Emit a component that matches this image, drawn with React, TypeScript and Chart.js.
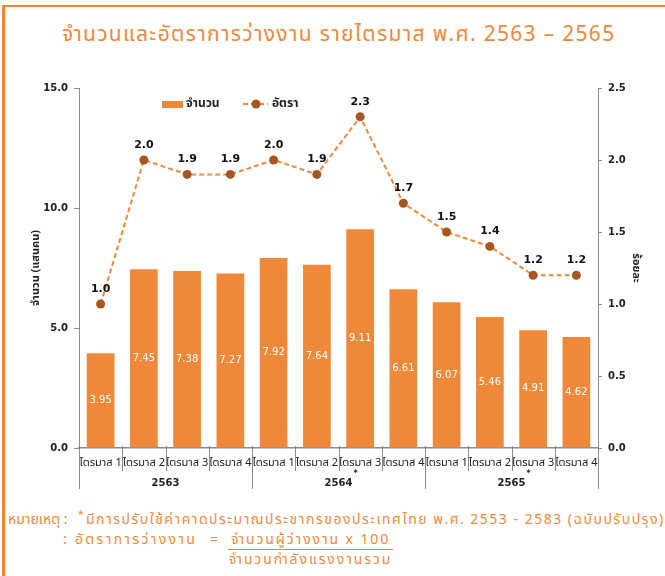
import React, { useEffect, useRef } from 'react';
import { Chart, registerables } from 'chart.js';

Chart.register(...registerables);

const quarterLabels = [
  'ไตรมาส 1', 'ไตรมาส 2', 'ไตรมาส 3', 'ไตรมาส 4',
  'ไตรมาส 1', 'ไตรมาส 2', 'ไตรมาส 3', 'ไตรมาส 4',
  'ไตรมาส 1', 'ไตรมาส 2', 'ไตรมาส 3', 'ไตรมาส 4',
];
const yearLabels = ['2563', '2564', '2565'];
const yearMarks = ['', '*', '*'];
const unemployed = [3.95, 7.45, 7.38, 7.27, 7.92, 7.64, 9.11, 6.61, 6.07, 5.46, 4.91, 4.62];
const rate = [1.0, 2.0, 1.9, 1.9, 2.0, 1.9, 2.3, 1.7, 1.5, 1.4, 1.2, 1.2];
const seriesNames = ['จำนวน', 'อัตรา'];
const leftAxisTitle = 'จำนวน (แสนคน)';
const rightAxisTitle = 'ร้อยละ';
const titleText = 'จำนวนและอัตราการว่างงาน รายไตรมาส พ.ศ. 2563 – 2565';

const ORANGE = '#F0883A';
const BROWN = '#A8561F';
const AXIS = '#8c8c8c';
const THAI = "Tahoma, 'Noto Sans Thai', 'Noto Sans Thai UI', Loma, Garuda, 'DejaVu Sans', sans-serif";
const NUM = "'DejaVu Sans', Tahoma, sans-serif";

const decoPlugin = {
  id: 'deco',
  afterDatasetsDraw(chart: any) {
    const ctx = chart.ctx;
    const barMeta = chart.getDatasetMeta(0);
    ctx.save();
    ctx.font = `10px ${NUM}`;
    ctx.fillStyle = '#ffffff';
    ctx.textAlign = 'center';
    ctx.textBaseline = 'middle';
    barMeta.data.forEach((el: any, i: number) => {
      ctx.fillText(unemployed[i].toFixed(2), el.x, (el.y + el.base) / 2);
    });
    const lineMeta = chart.getDatasetMeta(1);
    ctx.font = `bold 11px ${NUM}`;
    ctx.fillStyle = '#111111';
    lineMeta.data.forEach((el: any, i: number) => {
      ctx.fillText(rate[i].toFixed(1), el.x, el.y - 15);
    });
    ctx.restore();
  },
  afterDraw(chart: any) {
    const ctx = chart.ctx;
    const x = chart.scales.x;
    const area = chart.chartArea;
    const n = quarterLabels.length;
    const bounds: number[] = [];
    for (let i = 0; i <= n; i++) {
      if (i === 0) bounds.push(area.left);
      else if (i === n) bounds.push(area.right);
      else bounds.push((x.getPixelForValue(i - 1) + x.getPixelForValue(i)) / 2);
    }
    ctx.save();
    ctx.strokeStyle = AXIS;
    ctx.lineWidth = 1;
    for (let i = 0; i <= n; i++) {
      const isYear = i % 4 === 0;
      const bx = Math.round(bounds[i]) + 0.5;
      ctx.beginPath();
      ctx.moveTo(bx, area.bottom - 2);
      ctx.lineTo(bx, isYear ? area.bottom + 41 : area.bottom + 23);
      ctx.stroke();
    }
    ctx.font = `bold 10px ${NUM}`;
    ctx.fillStyle = '#222222';
    ctx.textAlign = 'center';
    ctx.textBaseline = 'middle';
    yearLabels.forEach((yl, g) => {
      const cx = (bounds[g * 4] + bounds[g * 4 + 4]) / 2;
      const cy = area.bottom + 35;
      ctx.fillText(yl, cx, cy);
      if (yearMarks[g]) {
        const w = ctx.measureText(yl).width;
        ctx.save();
        ctx.font = `bold 8px ${NUM}`;
        ctx.textAlign = 'left';
        ctx.fillText(yearMarks[g], cx + w / 2 + 1, cy - 9);
        ctx.restore();
      }
    });
    const ly = 104;
    ctx.fillStyle = ORANGE;
    ctx.fillRect(162, ly - 3, 21, 7);
    ctx.font = `bold 12px ${THAI}`;
    ctx.fillStyle = '#222222';
    ctx.textAlign = 'left';
    ctx.fillText(seriesNames[0], 186, ly + 1);
    ctx.strokeStyle = ORANGE;
    ctx.lineWidth = 2;
    ctx.setLineDash([5, 3]);
    ctx.beginPath();
    ctx.moveTo(243, ly);
    ctx.lineTo(268, ly);
    ctx.stroke();
    ctx.setLineDash([]);
    ctx.fillStyle = BROWN;
    ctx.beginPath();
    ctx.arc(256, ly, 4.5, 0, Math.PI * 2);
    ctx.fill();
    ctx.fillStyle = '#222222';
    ctx.fillText(seriesNames[1], 272, ly + 1);
    ctx.restore();
  },
};

export default function App() {
  const ref = useRef<HTMLCanvasElement | null>(null);

  useEffect(() => {
    if (!ref.current) return;
    const chart = new Chart(ref.current, {
      type: 'bar',
      data: {
        labels: quarterLabels,
        datasets: [
          {
            type: 'bar',
            label: seriesNames[0],
            data: unemployed,
            backgroundColor: ORANGE,
            yAxisID: 'y',
            categoryPercentage: 1,
            barPercentage: 0.64,
            order: 1,
          },
          {
            type: 'line',
            label: seriesNames[1],
            data: rate,
            borderColor: ORANGE,
            borderWidth: 2,
            borderDash: [5, 3],
            pointBackgroundColor: BROWN,
            pointBorderColor: BROWN,
            pointRadius: 4.5,
            pointBorderWidth: 0,
            yAxisID: 'y1',
            tension: 0,
            order: 0,
          },
        ] as any,
      },
      options: {
        responsive: false,
        animation: false,
        layout: { padding: { top: 88, left: 0, right: 0, bottom: 0 } },
        plugins: {
          legend: { display: false },
          tooltip: { enabled: false },
          title: { display: false },
        },
        scales: {
          x: {
            offset: true,
            grid: { display: false, drawTicks: false },
            border: { display: true, color: AXIS, width: 1.5 },
            ticks: {
              autoSkip: false,
              maxRotation: 0,
              minRotation: 0,
              padding: 9,
              color: '#222222',
              font: { family: THAI, size: 11 },
            },
            afterFit: (s: any) => { s.height = 52; },
          },
          y: {
            position: 'left',
            min: 0,
            max: 15,
            ticks: {
              stepSize: 5,
              padding: 6,
              color: '#222222',
              font: { family: NUM, size: 10, weight: 'bold' },
              callback: (v: any) => Number(v).toFixed(1),
            },
            grid: { drawOnChartArea: false, drawTicks: true, tickLength: 5, color: AXIS },
            border: { display: true, color: AXIS, width: 1 },
            title: {
              display: true,
              text: leftAxisTitle,
              color: '#222222',
              font: { family: THAI, size: 11, weight: 'bold' },
              padding: { top: 30, bottom: 0 },
            },
            afterFit: (s: any) => { s.width = 79; },
          },
          y1: {
            position: 'right',
            min: 0,
            max: 2.5,
            ticks: {
              stepSize: 0.5,
              padding: 6,
              color: '#222222',
              font: { family: NUM, size: 10, weight: 'bold' },
              callback: (v: any) => Number(v).toFixed(1),
            },
            grid: { drawOnChartArea: false, drawTicks: true, tickLength: 4, color: AXIS },
            border: { display: true, color: AXIS, width: 1 },
            title: {
              display: true,
              text: rightAxisTitle,
              color: '#222222',
              font: { family: THAI, size: 11, weight: 'bold' },
              padding: { top: 23, bottom: 0 },
            },
            afterFit: (s: any) => { s.width = 67; },
          },
        },
      } as any,
      plugins: [decoPlugin],
    });
    return () => chart.destroy();
  }, []);

  const foot: React.CSSProperties = {
    position: 'absolute', color: ORANGE, fontFamily: THAI, fontSize: 14,
    whiteSpace: 'nowrap', lineHeight: '20px',
  };

  return (
    <div style={{ position: 'fixed', left: 0, top: 0, width: 665, height: 576, overflow: 'hidden', background: '#fff' }}>
      <div style={{ position: 'absolute', left: 2, top: 5, width: 720, height: 620, borderLeft: `3px solid ${ORANGE}`, borderTop: `2px solid ${ORANGE}` }} />
      <div style={{ position: 'absolute', left: 62, top: 20, color: ORANGE, fontFamily: THAI, fontSize: 21, letterSpacing: '1.3px', whiteSpace: 'nowrap', lineHeight: '30px' }}>
        {titleText}
      </div>
      <canvas ref={ref} width={665} height={500} style={{ position: 'absolute', left: 0, top: 0, width: 665, height: 500 }} />
      <div style={{ ...foot, left: 8, top: 510 }}>
        หมายเหตุ :
      </div>
      <div style={{ ...foot, left: 78, top: 505, fontSize: 10 }}>*</div>
      <div style={{ ...foot, left: 86, top: 510, letterSpacing: '1.5px' }}>
        มีการปรับใช้ค่าคาดประมาณประชากรของประเทศไทย พ.ศ. 2553 - 2583 (ฉบับปรับปรุง)
      </div>
      <div style={{ ...foot, left: 63, top: 530, letterSpacing: '2.3px' }}>
        : อัตราการว่างงาน
      </div>
      <div style={{ ...foot, left: 210, top: 530 }}>=</div>
      <div style={{ ...foot, left: 228, top: 530, textAlign: 'center', letterSpacing: '1.9px' }}>
        <div style={{ borderBottom: `1.5px solid ${ORANGE}`, padding: '0 3px', lineHeight: '19px' }}>จำนวนผู้ว่างงาน x 100</div>
        <div style={{ lineHeight: '19px' }}>จำนวนกำลังแรงงานรวม</div>
      </div>
    </div>
  );
}
